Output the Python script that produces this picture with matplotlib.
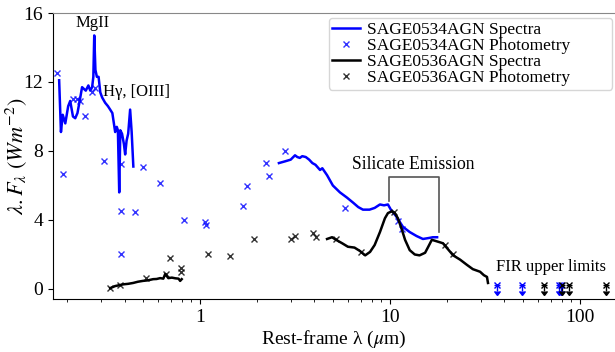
import matplotlib.pyplot as plt

plt.rcParams['font.family'] = ['Liberation Serif', 'DejaVu Serif']
plt.rcParams['mathtext.fontset'] = 'stix'

# SAGE0534AGN optical/UV spectrum (rest-frame um, lambda F_lambda)
b_opt_wl = [0.181, 0.185, 0.189, 0.195, 0.202, 0.207, 0.214, 0.220, 0.226, 0.233,
            0.239, 0.250, 0.258, 0.264, 0.270, 0.274, 0.277, 0.281, 0.286, 0.292,
            0.298, 0.305, 0.316, 0.327, 0.336, 0.345, 0.357, 0.364, 0.369, 0.375,
            0.380, 0.388, 0.397, 0.403, 0.410, 0.418, 0.428, 0.436, 0.445]
b_opt_f = [12.1, 9.1, 10.1, 9.6, 10.6, 10.9, 10.0, 9.9, 10.2, 11.0,
           11.7, 11.5, 11.8, 11.5, 11.7, 12.3, 14.7, 12.7, 12.3, 12.3,
           11.4, 11.1, 10.8, 10.6, 10.4, 10.2, 9.1, 9.4, 9.2, 5.6,
           9.2, 9.0, 8.4, 7.8, 8.6, 9.0, 10.4, 9.1, 7.1]

# SAGE0534AGN IR spectrum
b_ir_wl = [2.6, 2.8, 3.0, 3.16, 3.25, 3.35, 3.45, 3.6, 3.75, 3.9, 4.05, 4.28, 4.4,
           4.66, 5.0, 5.45, 5.93, 6.4, 6.8, 7.2, 7.8, 8.3, 8.85, 9.3, 9.75, 10.1,
           10.8, 11.7, 12.7, 13.8, 14.9, 15.9, 16.8, 17.7]
b_ir_f = [7.3, 7.4, 7.5, 7.75, 7.65, 7.6, 7.7, 7.65, 7.5, 7.3, 7.2, 6.9, 7.0,
          6.6, 6.0, 5.6, 5.3, 5.0, 4.75, 4.6, 4.6, 4.7, 4.9, 4.85, 4.9, 4.6,
          4.2, 3.6, 3.3, 3.07, 2.9, 2.95, 3.0, 3.0]

# SAGE0536AGN optical spectrum
k_opt_wl = [0.336, 0.357, 0.375, 0.394, 0.418, 0.444, 0.470, 0.500, 0.530, 0.566,
            0.590, 0.616, 0.640, 0.655, 0.680, 0.710, 0.740, 0.770, 0.785, 0.800]
k_opt_f = [0.05, 0.17, 0.22, 0.27, 0.30, 0.35, 0.42, 0.47, 0.50, 0.57,
           0.58, 0.63, 0.60, 0.87, 0.63, 0.66, 0.62, 0.60, 0.47, 0.57]

# SAGE0536AGN IR spectrum
k_ir_wl = [4.66, 4.95, 5.2, 5.6, 6.0, 6.5, 6.95, 7.4, 7.85, 8.3, 8.85, 9.4, 9.75,
           10.2, 10.6, 11.0, 11.5, 12.0, 12.7, 13.5, 14.3, 15.3, 15.9, 16.6, 17.2,
           18.4, 19.0, 21.5, 23.4, 25.4, 27.3, 29.8, 31.2, 32.4, 32.8]
k_ir_f = [2.9, 3.0, 2.85, 2.65, 2.45, 2.4, 2.2, 1.95, 2.15, 2.55, 3.3, 4.1, 4.4,
          4.5, 4.4, 4.1, 3.5, 2.85, 2.25, 2.0, 1.95, 2.1, 2.45, 2.85, 2.8,
          2.7, 2.65, 1.95, 1.7, 1.4, 1.15, 1.0, 0.8, 0.7, 0.35]

# photometry
b_ph_wl = [0.177, 0.19, 0.215, 0.225, 0.233, 0.248, 0.27, 0.28, 0.312, 0.384, 0.384,
           0.384, 0.455, 0.5, 0.616, 0.824, 1.06, 1.075, 1.68, 1.77, 2.23, 2.31,
           2.8, 5.8, 11.0, 11.5]
b_ph_f = [12.5, 6.65, 11.0, 11.0, 10.9, 10.0, 11.4, 11.65, 7.4, 7.25, 4.52,
          2.03, 4.46, 7.1, 6.14, 4.0, 3.88, 3.71, 4.81, 5.97, 7.3, 6.55,
          8.0, 4.7, 3.94, 3.48]
k_ph_wl = [0.336, 0.38, 0.52, 0.66, 0.695, 0.79, 0.79, 1.1, 1.44, 1.92, 3.0, 3.16,
           3.93, 4.07, 5.2, 7.0, 10.5, 19.5, 21.5]
k_ph_f = [0.05, 0.25, 0.62, 0.87, 1.8, 1.22, 1.0, 2.03, 1.91, 2.9, 2.9, 3.07,
          3.25, 3.0, 2.9, 2.15, 4.46, 2.55, 2.03]

# FIR upper limits
b_ul_wl = [36.6, 49.3, 77.5, 79.5]
b_ul_f = [0.25, 0.25, 0.25, 0.25]
k_ul_wl = [64.6, 80.5, 87.5, 137.0]
k_ul_f = [0.25, 0.25, 0.25, 0.25]

fig = plt.figure(figsize=(6.15, 3.52), dpi=100)
ax = fig.add_axes([53/615, 53/352, 562/615, 286/352])

ax.plot(b_opt_wl, b_opt_f, color='b', lw=1.8, label='SAGE0534AGN Spectra')
ax.plot(b_ir_wl, b_ir_f, color='b', lw=1.8)
ax.plot(b_ph_wl, b_ph_f, 'x', color='b', ms=4.5, mew=1, alpha=0.8,
        label='SAGE0534AGN Photometry')
ax.plot(k_opt_wl, k_opt_f, color='k', lw=1.8, label='SAGE0536AGN Spectra')
ax.plot(k_ir_wl, k_ir_f, color='k', lw=1.8)
ax.plot(k_ph_wl, k_ph_f, 'x', color='k', ms=4.5, mew=1, alpha=0.8,
        label='SAGE0536AGN Photometry')

ax.errorbar(b_ul_wl, b_ul_f, yerr=0.35, uplims=True, fmt='x', color='b',
            ms=4.5, mew=1, elinewidth=1, capsize=2)
ax.errorbar(k_ul_wl, k_ul_f, yerr=0.35, uplims=True, fmt='x', color='k',
            ms=4.5, mew=1, elinewidth=1, capsize=2)

# silicate bracket
ax.plot([9.9, 9.9, 18.1, 18.1], [5.1, 6.5, 6.5, 3.3], color='#555555', lw=1.2)
ax.text(13.3, 7.2, 'Silicate Emission', fontsize=12.7, ha='center', va='center')
ax.text(0.273, 15.4, 'MgII', fontsize=12, ha='center', va='center')
ax.text(0.307, 11.4, 'Hγ, [OIII]', fontsize=12, ha='left', va='center')
ax.text(70.4, 1.28, 'FIR upper limits', fontsize=12, ha='center', va='center')

ax.set_xscale('log')
ax.set_xlim(0.168, 153)
ax.set_ylim(-0.58, 16)
ax.set_yticks([0, 4, 8, 12, 16])
ax.set_xticks([1, 10, 100])
ax.set_xticklabels(['1', '10', '100'])
ax.tick_params(labelsize=14)
ax.spines['right'].set_visible(False)
ax.spines['top'].set_color('#888888')

ax.set_xlabel(r'Rest-frame λ ($\mu$m)', fontsize=14, labelpad=2)
ax.set_ylabel(r'$\lambda.F_\lambda\ (Wm^{-2})$', fontsize=16)
ax.yaxis.set_label_coords(-0.042, 0.5)

ax.legend(loc='upper left', bbox_to_anchor=(329/615, 1 - 93/352, 283/615, 75/352),
          bbox_transform=fig.transFigure, mode='expand', borderaxespad=0,
          fontsize=12.5, labelspacing=0, handlelength=1.6, borderpad=0.2,
          handletextpad=0.4)

fig.savefig('out.png', dpi=100)
